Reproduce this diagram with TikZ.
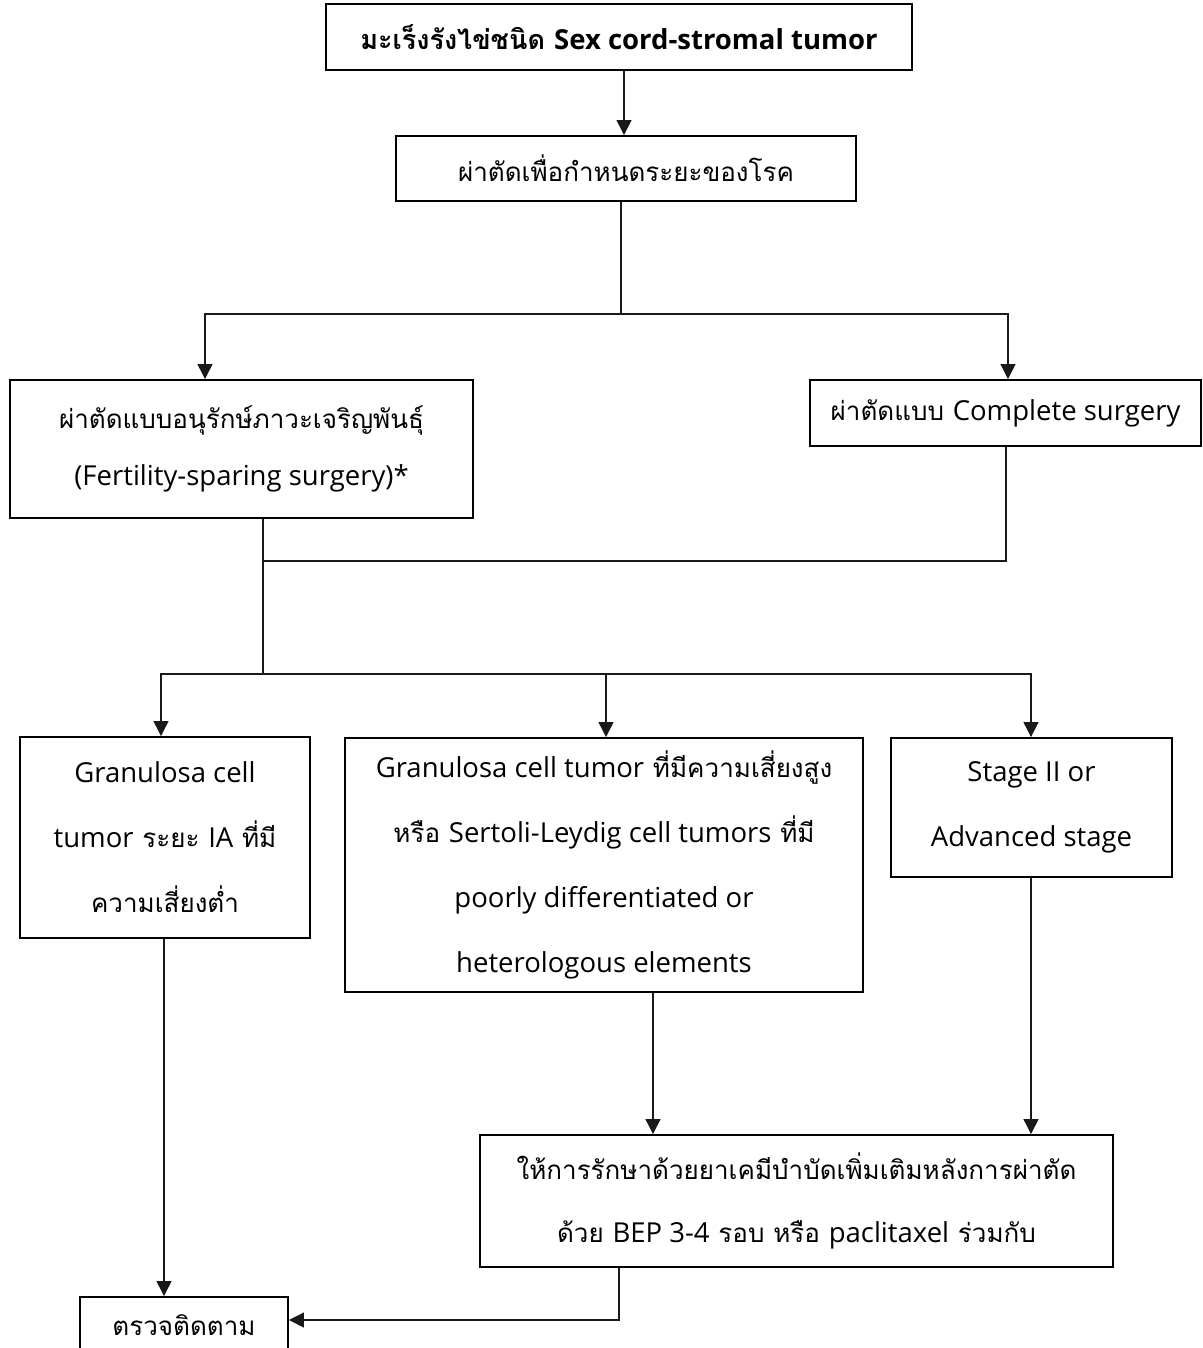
\documentclass[tikz,border=0pt]{standalone}
\usepackage{fontspec}
\setmainfont[Script=Thai]{Loma}
\newfontfamily\latinfont{Open Sans}
% Latin runs are set in a humanist sans at a slightly larger size
\newcommand\latn[1]{{\latinfont\fontsize{27.5}{\baselineskip}\selectfont #1}}
\usetikzlibrary{arrows.meta}
\begin{document}
\begin{tikzpicture}[x=1pt,y=-1pt,
  box/.style={draw=black,line width=1.9pt,rectangle,inner sep=0pt,align=center,
    font=\fontsize{26}{65}\selectfont},
  link/.style={draw=black!90,line width=1.2pt},
  arr/.style={link,-{Triangle[length=15pt,width=15pt]}}]
\useasboundingbox (0,0) rectangle (1202,1348);
\begin{scope}
\clip (0,0) rectangle (1202,1348);
% boxes
\node[box,minimum width=586pt,minimum height=66pt,font=\bfseries\fontsize{27}{65}\selectfont] (top) at (619,37) {มะเร็งรังไข่ชนิด \latn{Sex cord-stromal tumor}};
\node[box,minimum width=460pt,minimum height=65pt] (b2) at (626,168.5) {ผ่าตัดเพื่อกำหนดระยะของโรค};
\node[box,minimum width=463pt,minimum height=138pt,font=\fontsize{26}{57}\selectfont] (b3) at (241.5,449) {ผ่าตัดแบบอนุรักษ์ภาวะเจริญพันธุ์\\\latn{(Fertility-sparing surgery)*}};
\node[box,minimum width=391pt,minimum height=66pt] (b4) at (1005.5,413) {ผ่าตัดแบบ \latn{Complete surgery}};
\node[box,minimum width=290pt,minimum height=201pt] (b5) at (165,837.5) {\latn{Granulosa cell}\\\latn{tumor} ระยะ \latn{IA} ที่มี\\ความเสี่ยงต่ำ};
\node[box,minimum width=518pt,minimum height=254pt] (b6) at (604,865) {\latn{Granulosa cell tumor} ที่มีความเสี่ยงสูง\\หรือ \latn{Sertoli-Leydig cell tumors} ที่มี\\\latn{poorly differentiated or}\\\latn{heterologous elements}};
\node[box,minimum width=281pt,minimum height=139pt] (b7) at (1031.5,807.5) {\latn{Stage II or}\\\latn{Advanced stage}};
\node[box,minimum width=633pt,minimum height=132pt,font=\fontsize{26}{63}\selectfont] (b9) at (796.5,1201) {ให้การรักษาด้วยยาเคมีบำบัดเพิ่มเติมหลังการผ่าตัด\\ด้วย \latn{BEP 3-4} รอบ หรือ \latn{paclitaxel} ร่วมกับ};
\node[box,minimum width=208pt,minimum height=56pt] (b8) at (184,1325) {ตรวจติดตาม};
% branch points
\coordinate (split1) at (621,314);
\coordinate (join) at (263,561);
\coordinate (split2) at (263,674);
% connectors
\draw[arr] (624,0 |- top.south) -- (624,0 |- b2.north);
\draw[link] (621,0 |- b2.south) -- (split1);
\draw[arr] (split1) -| (205,0 |- b3.north);
\draw[arr] (split1) -| (1008,0 |- b4.north);
\draw[link] (263,0 |- b3.south) -- (join);
\draw[link] (1006,0 |- b4.south) |- (join);
\draw[link] (join) -- (split2);
\draw[arr] (split2) -| (161,0 |- b5.north);
\draw[arr] (split2) -| (606,0 |- b6.north);
\draw[arr] (split2) -| (1031,0 |- b7.north);
\draw[arr] (164,0 |- b5.south) -- (164,0 |- b8.north);
\draw[arr] (653,0 |- b6.south) -- (653,0 |- b9.north);
\draw[arr] (1031,0 |- b7.south) -- (1031,0 |- b9.north);
\draw[arr] (619,0 |- b9.south) |- ([yshift=5pt]b8.east);
\end{scope}
\end{tikzpicture}
\end{document}
